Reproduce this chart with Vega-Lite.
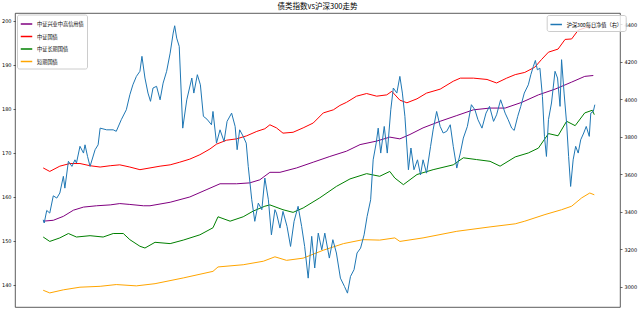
{
"$schema":"https://vega.github.io/schema/vega-lite/v6.json",
"width":605,"height":294,
"autosize":{"type":"none"},
"padding":{"left":15,"top":13,"right":20,"bottom":12},
"background":"white",
"title":{"text":"债类指数vs沪深300走势","font":"Noto Sans CJK SC","fontSize":7.5,"fontWeight":"normal","color":"#000","offset":3},
"config":{
 "view":{"stroke":"#333","strokeWidth":0.8},
 "axis":{"grid":false,"domain":false,"tickSize":2,"tickColor":"#000","tickWidth":0.6,"labelFont":"DejaVu Sans","labelFontSize":5,"labelColor":"#000","labelPadding":2,"title":null}
},
"datasets":{
"bonds":[
{"d":"2017-05-14","s":"中证国债","v":166.6},{"d":"2017-05-27","s":"中证国债","v":165.8},{"d":"2017-06-16","s":"中证国债","v":167.0},{"d":"2017-07-06","s":"中证国债","v":167.6},{"d":"2017-07-26","s":"中证国债","v":167.6},{"d":"2017-08-15","s":"中证国债","v":167.1},{"d":"2017-09-04","s":"中证国债","v":166.8},{"d":"2017-09-24","s":"中证国债","v":167.1},{"d":"2017-10-13","s":"中证国债","v":167.3},{"d":"2017-11-02","s":"中证国债","v":166.8},{"d":"2017-11-22","s":"中证国债","v":166.2},{"d":"2017-12-12","s":"中证国债","v":166.6},{"d":"2018-01-01","s":"中证国债","v":167.0},{"d":"2018-01-21","s":"中证国债","v":167.3},{"d":"2018-02-09","s":"中证国债","v":167.9},{"d":"2018-03-01","s":"中证国债","v":168.6},{"d":"2018-03-21","s":"中证国债","v":169.6},{"d":"2018-04-10","s":"中证国债","v":170.9},{"d":"2018-04-23","s":"中证国债","v":172.0},{"d":"2018-05-13","s":"中证国债","v":172.9},{"d":"2018-06-02","s":"中证国债","v":173.2},{"d":"2018-06-22","s":"中证国债","v":173.9},{"d":"2018-07-12","s":"中证国债","v":174.9},{"d":"2018-07-28","s":"中证国债","v":175.5},{"d":"2018-08-07","s":"中证国债","v":176.4},{"d":"2018-08-20","s":"中证国债","v":175.7},{"d":"2018-09-02","s":"中证国债","v":174.5},{"d":"2018-09-22","s":"中证国债","v":174.7},{"d":"2018-10-12","s":"中证国债","v":175.7},{"d":"2018-11-01","s":"中证国债","v":176.8},{"d":"2018-11-21","s":"中证国债","v":179.1},{"d":"2018-12-11","s":"中证国债","v":179.8},{"d":"2018-12-24","s":"中证国债","v":180.8},{"d":"2019-01-06","s":"中证国债","v":181.5},{"d":"2019-01-26","s":"中证国债","v":182.9},{"d":"2019-02-15","s":"中证国债","v":183.5},{"d":"2019-03-07","s":"中证国债","v":182.9},{"d":"2019-03-27","s":"中证国债","v":183.2},{"d":"2019-04-06","s":"中证国债","v":184.0},{"d":"2019-04-22","s":"中证国债","v":182.0},{"d":"2019-05-06","s":"中证国债","v":181.4},{"d":"2019-05-26","s":"中证国债","v":182.3},{"d":"2019-06-14","s":"中证国债","v":183.6},{"d":"2019-07-11","s":"中证国债","v":184.5},{"d":"2019-08-06","s":"中证国债","v":186.3},{"d":"2019-08-20","s":"中证国债","v":187.0},{"d":"2019-09-15","s":"中证国债","v":187.0},{"d":"2019-10-12","s":"中证国债","v":186.7},{"d":"2019-10-31","s":"中证国债","v":185.9},{"d":"2019-11-20","s":"中证国债","v":187.0},{"d":"2019-12-07","s":"中证国债","v":187.8},{"d":"2019-12-26","s":"中证国债","v":188.3},{"d":"2020-01-15","s":"中证国债","v":189.5},{"d":"2020-01-28","s":"中证国债","v":191.2},{"d":"2020-02-11","s":"中证国债","v":192.9},{"d":"2020-03-01","s":"中证国债","v":193.6},{"d":"2020-03-15","s":"中证国债","v":195.8},{"d":"2020-03-28","s":"中证国债","v":195.9},{"d":"2020-04-10","s":"中证国债","v":197.9},{"d":"2020-04-23","s":"中证国债","v":198.4},{"d":"2020-05-03","s":"中证国债","v":198.9},{"d":"2020-05-12","s":"中证国债","v":198.2},
{"d":"2017-05-14","s":"中证兴业中高信用债","v":154.5},{"d":"2017-06-03","s":"中证兴业中高信用债","v":154.7},{"d":"2017-06-23","s":"中证兴业中高信用债","v":155.6},{"d":"2017-07-13","s":"中证兴业中高信用债","v":157.0},{"d":"2017-08-02","s":"中证兴业中高信用债","v":157.7},{"d":"2017-08-28","s":"中证兴业中高信用债","v":158.0},{"d":"2017-09-24","s":"中证兴业中高信用债","v":158.2},{"d":"2017-10-13","s":"中证兴业中高信用债","v":158.5},{"d":"2017-11-02","s":"中证兴业中高信用债","v":158.3},{"d":"2017-11-29","s":"中证兴业中高信用债","v":158.0},{"d":"2017-12-12","s":"中证兴业中高信用债","v":158.0},{"d":"2018-01-21","s":"中证兴业中高信用债","v":158.8},{"d":"2018-03-01","s":"中证兴业中高信用债","v":160.0},{"d":"2018-04-04","s":"中证兴业中高信用债","v":161.7},{"d":"2018-04-30","s":"中证兴业中高信用债","v":163.0},{"d":"2018-06-02","s":"中证兴业中高信用债","v":163.0},{"d":"2018-06-28","s":"中证兴业中高信用债","v":163.2},{"d":"2018-07-18","s":"中证兴业中高信用债","v":163.9},{"d":"2018-08-07","s":"中证兴业中高信用债","v":165.6},{"d":"2018-08-27","s":"中证兴业中高信用债","v":165.6},{"d":"2018-09-29","s":"中证兴业中高信用债","v":166.6},{"d":"2018-11-01","s":"中证兴业中高信用债","v":167.9},{"d":"2018-12-04","s":"中证兴业中高信用债","v":169.2},{"d":"2019-01-06","s":"中证兴业中高信用债","v":170.4},{"d":"2019-02-02","s":"中证兴业中高信用债","v":171.9},{"d":"2019-03-07","s":"中证兴业中高信用债","v":172.7},{"d":"2019-04-02","s":"中证兴业中高信用债","v":173.6},{"d":"2019-04-22","s":"中证兴业中高信用债","v":173.2},{"d":"2019-05-12","s":"中证兴业中高信用债","v":174.2},{"d":"2019-06-07","s":"中证兴业中高信用债","v":175.7},{"d":"2019-07-11","s":"中证兴业中高信用债","v":177.2},{"d":"2019-08-13","s":"中证兴业中高信用债","v":178.5},{"d":"2019-09-15","s":"中证兴业中高信用债","v":179.8},{"d":"2019-10-18","s":"中证兴业中高信用债","v":180.2},{"d":"2019-11-17","s":"中证兴业中高信用债","v":180.2},{"d":"2019-12-20","s":"中证兴业中高信用债","v":181.5},{"d":"2020-01-22","s":"中证兴业中高信用债","v":183.2},{"d":"2020-02-24","s":"中证兴业中高信用债","v":184.5},{"d":"2020-03-28","s":"中证兴业中高信用债","v":186.1},{"d":"2020-04-23","s":"中证兴业中高信用债","v":187.4},{"d":"2020-05-10","s":"中证兴业中高信用债","v":187.6},
{"d":"2017-05-14","s":"中证长期国债","v":150.9},{"d":"2017-05-27","s":"中证长期国债","v":149.9},{"d":"2017-06-16","s":"中证长期国债","v":150.7},{"d":"2017-07-03","s":"中证长期国债","v":151.7},{"d":"2017-07-19","s":"中证长期国债","v":150.9},{"d":"2017-08-15","s":"中证长期国债","v":151.2},{"d":"2017-09-10","s":"中证长期国债","v":150.9},{"d":"2017-09-30","s":"中证长期国债","v":151.7},{"d":"2017-10-20","s":"中证长期国债","v":151.7},{"d":"2017-11-02","s":"中证长期国债","v":150.3},{"d":"2017-11-22","s":"中证长期国债","v":148.8},{"d":"2017-12-02","s":"中证长期国债","v":148.4},{"d":"2017-12-22","s":"中证长期国债","v":149.7},{"d":"2018-01-21","s":"中证长期国债","v":149.4},{"d":"2018-02-16","s":"中证长期国债","v":150.2},{"d":"2018-03-21","s":"中证长期国债","v":151.4},{"d":"2018-04-16","s":"中证长期国债","v":153.0},{"d":"2018-04-26","s":"中证长期国债","v":155.5},{"d":"2018-05-20","s":"中证长期国债","v":154.5},{"d":"2018-06-15","s":"中证长期国债","v":155.5},{"d":"2018-07-05","s":"中证长期国债","v":156.8},{"d":"2018-07-28","s":"中证长期国债","v":157.9},{"d":"2018-08-07","s":"中证长期国债","v":158.2},{"d":"2018-09-02","s":"中证长期国债","v":157.1},{"d":"2018-09-22","s":"中证长期国债","v":156.5},{"d":"2018-10-12","s":"中证长期国债","v":157.5},{"d":"2018-11-14","s":"中证长期国债","v":159.8},{"d":"2018-12-17","s":"中证长期国债","v":162.4},{"d":"2019-01-13","s":"中证长期国债","v":164.1},{"d":"2019-02-15","s":"中证长期国债","v":165.3},{"d":"2019-03-13","s":"中证长期国债","v":164.7},{"d":"2019-04-02","s":"中证长期国债","v":165.8},{"d":"2019-04-12","s":"中证长期国债","v":164.3},{"d":"2019-04-29","s":"中证长期国债","v":162.8},{"d":"2019-05-26","s":"中证长期国债","v":165.1},{"d":"2019-06-27","s":"中证长期国债","v":166.2},{"d":"2019-08-06","s":"中证长期国债","v":167.3},{"d":"2019-08-26","s":"中证长期国债","v":168.9},{"d":"2019-09-21","s":"中证长期国债","v":168.5},{"d":"2019-10-18","s":"中证长期国债","v":168.1},{"d":"2019-11-07","s":"中证长期国债","v":167.0},{"d":"2019-12-07","s":"中证长期国债","v":169.1},{"d":"2020-01-02","s":"中证长期国债","v":170.0},{"d":"2020-01-22","s":"中证长期国债","v":171.1},{"d":"2020-02-11","s":"中证长期国债","v":174.4},{"d":"2020-03-01","s":"中证长期国债","v":173.9},{"d":"2020-03-18","s":"中证长期国债","v":177.2},{"d":"2020-04-04","s":"中证长期国债","v":176.2},{"d":"2020-04-23","s":"中证长期国债","v":179.1},{"d":"2020-05-08","s":"中证长期国债","v":179.7},{"d":"2020-05-12","s":"中证长期国债","v":178.7},
{"d":"2017-05-14","s":"短期国债","v":138.8},{"d":"2017-05-27","s":"短期国债","v":138.2},{"d":"2017-06-23","s":"短期国债","v":138.9},{"d":"2017-07-26","s":"短期国债","v":139.5},{"d":"2017-09-04","s":"短期国债","v":139.7},{"d":"2017-10-06","s":"短期国债","v":140.1},{"d":"2017-11-15","s":"短期国债","v":139.8},{"d":"2017-12-22","s":"短期国债","v":140.3},{"d":"2018-02-16","s":"短期国债","v":141.6},{"d":"2018-04-16","s":"短期国债","v":143.1},{"d":"2018-04-26","s":"短期国债","v":144.1},{"d":"2018-06-15","s":"短期国债","v":144.6},{"d":"2018-07-25","s":"短期国债","v":145.4},{"d":"2018-08-17","s":"短期国债","v":146.4},{"d":"2018-09-09","s":"短期国债","v":145.6},{"d":"2018-10-12","s":"短期国债","v":146.1},{"d":"2018-11-21","s":"短期国债","v":147.9},{"d":"2018-12-31","s":"短期国债","v":149.4},{"d":"2019-02-08","s":"短期国债","v":150.3},{"d":"2019-03-13","s":"短期国债","v":150.2},{"d":"2019-04-12","s":"短期国债","v":150.7},{"d":"2019-04-22","s":"短期国债","v":149.9},{"d":"2019-06-07","s":"短期国债","v":150.7},{"d":"2019-08-13","s":"短期国债","v":152.2},{"d":"2019-10-18","s":"短期国债","v":153.2},{"d":"2019-12-07","s":"短期国债","v":153.9},{"d":"2019-12-26","s":"短期国债","v":154.5},{"d":"2020-02-04","s":"短期国债","v":156.0},{"d":"2020-03-08","s":"短期国债","v":157.1},{"d":"2020-03-28","s":"短期国债","v":157.9},{"d":"2020-04-17","s":"短期国债","v":159.8},{"d":"2020-05-03","s":"短期国债","v":160.9},{"d":"2020-05-12","s":"短期国债","v":160.5}
],
"hs":[
{"d":"2017-05-14","v":3356},{"d":"2017-05-16","v":3339},{"d":"2017-05-21","v":3406},{"d":"2017-05-27","v":3392},{"d":"2017-06-03","v":3484},{"d":"2017-06-10","v":3472},{"d":"2017-06-16","v":3499},{"d":"2017-06-23","v":3588},{"d":"2017-06-26","v":3525},{"d":"2017-07-03","v":3668},{"d":"2017-07-10","v":3641},{"d":"2017-07-16","v":3676},{"d":"2017-07-19","v":3659},{"d":"2017-07-26","v":3748},{"d":"2017-08-02","v":3712},{"d":"2017-08-05","v":3756},{"d":"2017-08-10","v":3694},{"d":"2017-08-15","v":3641},{"d":"2017-08-25","v":3730},{"d":"2017-08-31","v":3756},{"d":"2017-09-04","v":3845},{"d":"2017-09-17","v":3836},{"d":"2017-09-30","v":3836},{"d":"2017-10-06","v":3828},{"d":"2017-10-16","v":3890},{"d":"2017-10-26","v":3943},{"d":"2017-11-02","v":4023},{"d":"2017-11-08","v":4076},{"d":"2017-11-15","v":4121},{"d":"2017-11-22","v":4148},{"d":"2017-11-26","v":4228},{"d":"2017-12-02","v":4112},{"d":"2017-12-08","v":4032},{"d":"2017-12-13","v":3988},{"d":"2017-12-18","v":4059},{"d":"2017-12-25","v":4068},
{"d":"2018-01-01","v":3996},{"d":"2018-01-07","v":4085},{"d":"2018-01-14","v":4148},{"d":"2018-01-21","v":4245},{"d":"2018-01-27","v":4352},{"d":"2018-01-30","v":4391},{"d":"2018-02-03","v":4325},{"d":"2018-02-08","v":4281},{"d":"2018-02-15","v":3845},{"d":"2018-02-23","v":3996},{"d":"2018-03-05","v":4112},{"d":"2018-03-09","v":4032},{"d":"2018-03-16","v":4130},{"d":"2018-03-22","v":4076},{"d":"2018-03-28","v":3908},{"d":"2018-04-04","v":3893},{"d":"2018-04-13","v":3863},{"d":"2018-04-16","v":3934},{"d":"2018-04-23","v":3765},{"d":"2018-04-30","v":3836},{"d":"2018-05-08","v":3774},{"d":"2018-05-14","v":3881},{"d":"2018-05-23","v":3925},{"d":"2018-05-30","v":3854},{"d":"2018-06-03","v":3730},{"d":"2018-06-08","v":3836},{"d":"2018-06-15","v":3801},{"d":"2018-06-21","v":3765},{"d":"2018-06-25","v":3641},{"d":"2018-07-02","v":3463},{"d":"2018-07-08","v":3348},{"d":"2018-07-15","v":3445},{"d":"2018-07-22","v":3410},{"d":"2018-07-28","v":3579},{"d":"2018-08-04","v":3463},{"d":"2018-08-10","v":3276},{"d":"2018-08-17","v":3410},{"d":"2018-08-20","v":3392},{"d":"2018-08-27","v":3312},{"d":"2018-09-02","v":3401},{"d":"2018-09-10","v":3321},{"d":"2018-09-17","v":3214},{"d":"2018-09-24","v":3348},{"d":"2018-10-02","v":3428},{"d":"2018-10-09","v":3321},{"d":"2018-10-15","v":3214},{"d":"2018-10-22","v":3045},{"d":"2018-10-29","v":3268},{"d":"2018-11-04","v":3099},{"d":"2018-11-11","v":3285},{"d":"2018-11-18","v":3196},{"d":"2018-11-24","v":3285},{"d":"2018-12-03","v":3152},{"d":"2018-12-10","v":3250},{"d":"2018-12-17","v":3179},{"d":"2018-12-25","v":3045},
{"d":"2019-01-02","v":3001},{"d":"2019-01-08","v":2965},{"d":"2019-01-14","v":3054},{"d":"2019-01-21","v":3090},{"d":"2019-01-27","v":3179},{"d":"2019-02-03","v":3205},{"d":"2019-02-10","v":3276},{"d":"2019-02-16","v":3374},{"d":"2019-02-23","v":3463},{"d":"2019-02-28","v":3676},{"d":"2019-03-06","v":3765},{"d":"2019-03-10","v":3845},{"d":"2019-03-15","v":3712},{"d":"2019-03-22","v":3854},{"d":"2019-03-28","v":3712},{"d":"2019-04-04","v":3943},{"d":"2019-04-09","v":4059},{"d":"2019-04-16","v":4032},{"d":"2019-04-22","v":4121},{"d":"2019-04-27","v":4032},{"d":"2019-05-02","v":3908},{"d":"2019-05-09","v":3623},{"d":"2019-05-14","v":3739},{"d":"2019-05-20","v":3623},{"d":"2019-05-27","v":3676},{"d":"2019-06-02","v":3596},{"d":"2019-06-07","v":3676},{"d":"2019-06-14","v":3605},{"d":"2019-06-22","v":3748},{"d":"2019-06-27","v":3836},{"d":"2019-07-04","v":3934},{"d":"2019-07-11","v":3854},{"d":"2019-07-17","v":3819},{"d":"2019-07-24","v":3828},{"d":"2019-07-31","v":3863},{"d":"2019-08-06","v":3748},{"d":"2019-08-13","v":3632},{"d":"2019-08-20","v":3712},{"d":"2019-08-26","v":3792},{"d":"2019-09-03","v":3854},{"d":"2019-09-11","v":3970},{"d":"2019-09-18","v":3943},{"d":"2019-09-24","v":3890},{"d":"2019-10-02","v":3845},{"d":"2019-10-10","v":3925},{"d":"2019-10-17","v":3961},{"d":"2019-10-25","v":3881},{"d":"2019-10-31","v":3916},{"d":"2019-11-08","v":3996},{"d":"2019-11-17","v":3925},{"d":"2019-11-23","v":3890},{"d":"2019-11-30","v":3845},{"d":"2019-12-05","v":3833},{"d":"2019-12-12","v":3908},{"d":"2019-12-18","v":3961},{"d":"2019-12-25","v":4032},
{"d":"2020-01-02","v":4076},{"d":"2020-01-07","v":4130},{"d":"2020-01-12","v":4174},{"d":"2020-01-16","v":4206},{"d":"2020-01-20","v":4156},{"d":"2020-01-25","v":4165},{"d":"2020-01-30","v":4014},{"d":"2020-02-03","v":3801},{"d":"2020-02-07","v":3694},{"d":"2020-02-11","v":3890},{"d":"2020-02-17","v":3979},{"d":"2020-02-24","v":4148},{"d":"2020-02-29","v":4112},{"d":"2020-03-05","v":3961},{"d":"2020-03-08","v":4210},{"d":"2020-03-13","v":4032},{"d":"2020-03-18","v":3872},{"d":"2020-03-22","v":3694},{"d":"2020-03-26","v":3534},{"d":"2020-03-31","v":3676},{"d":"2020-04-05","v":3748},{"d":"2020-04-10","v":3712},{"d":"2020-04-15","v":3783},{"d":"2020-04-21","v":3819},{"d":"2020-04-26","v":3854},{"d":"2020-05-02","v":3801},{"d":"2020-05-05","v":3925},{"d":"2020-05-10","v":3934},{"d":"2020-05-13","v":3970}
]
},
"layer":[
{"data":{"name":"bonds"},
 "mark":{"type":"line","strokeWidth":1},
 "encoding":{
  "x":{"field":"d","type":"temporal","scale":{"type":"utc","domain":[{"year":2017,"month":3,"date":19,"utc":true},{"year":2020,"month":7,"date":2,"utc":true}]},
   "axis":{"values":[{"year":2017,"month":5,"date":1,"utc":true},{"year":2017,"month":9,"date":1,"utc":true},{"year":2018,"month":1,"date":1,"utc":true},{"year":2018,"month":5,"date":1,"utc":true},{"year":2018,"month":9,"date":1,"utc":true},{"year":2019,"month":1,"date":1,"utc":true},{"year":2019,"month":5,"date":1,"utc":true},{"year":2019,"month":9,"date":1,"utc":true},{"year":2020,"month":1,"date":1,"utc":true},{"year":2020,"month":5,"date":1,"utc":true}],"format":"%Y-%m","formatType":"utc","labelAngle":0}},
  "y":{"field":"v","type":"quantitative","scale":{"domain":[135.0,201.8],"nice":false,"zero":false},"axis":{"orient":"left","values":[140,150,160,170,180,190,200],"format":"d"}},
  "color":{"field":"s","type":"nominal","scale":{"domain":["中证兴业中高信用债","中证国债","中证长期国债","短期国债"],"range":["#800080","#ff0000","#008000","#ffa500"]},
   "legend":{"title":null,"orient":"none","legendX":2,"legendY":1.5,"symbolType":"stroke","symbolSize":132,"symbolStrokeWidth":1.5,"labelFont":"Noto Sans CJK SC","labelFontSize":5.2,"labelColor":"#000","rowPadding":2.5,"padding":3,"strokeColor":"#ccc","fillColor":"rgba(255,255,255,0.8)","cornerRadius":2,"labelOffset":4}}
 }},
{"data":{"name":"hs"},
 "mark":{"type":"line","strokeWidth":1},
 "encoding":{
  "x":{"field":"d","type":"temporal","axis":null},
  "y":{"field":"v","type":"quantitative","scale":{"domain":[2891,4459],"nice":false,"zero":false},"axis":{"orient":"right","values":[3000,3200,3400,3600,3800,4000,4200,4400],"format":"d"}},
  "color":{"datum":"沪深300每日净值（右）","scale":{"range":["#1f77b4"]},
   "legend":{"title":null,"orient":"none","legendX":531.7,"legendY":2,"symbolType":"stroke","symbolSize":132,"symbolStrokeWidth":1.5,"labelFont":"Noto Sans CJK SC","labelFontSize":5.2,"labelColor":"#000","padding":3,"strokeColor":"#ccc","fillColor":"rgba(255,255,255,0.8)","cornerRadius":2,"labelOffset":4}}
 }}
],
"resolve":{"scale":{"y":"independent","color":"independent"}}
}
